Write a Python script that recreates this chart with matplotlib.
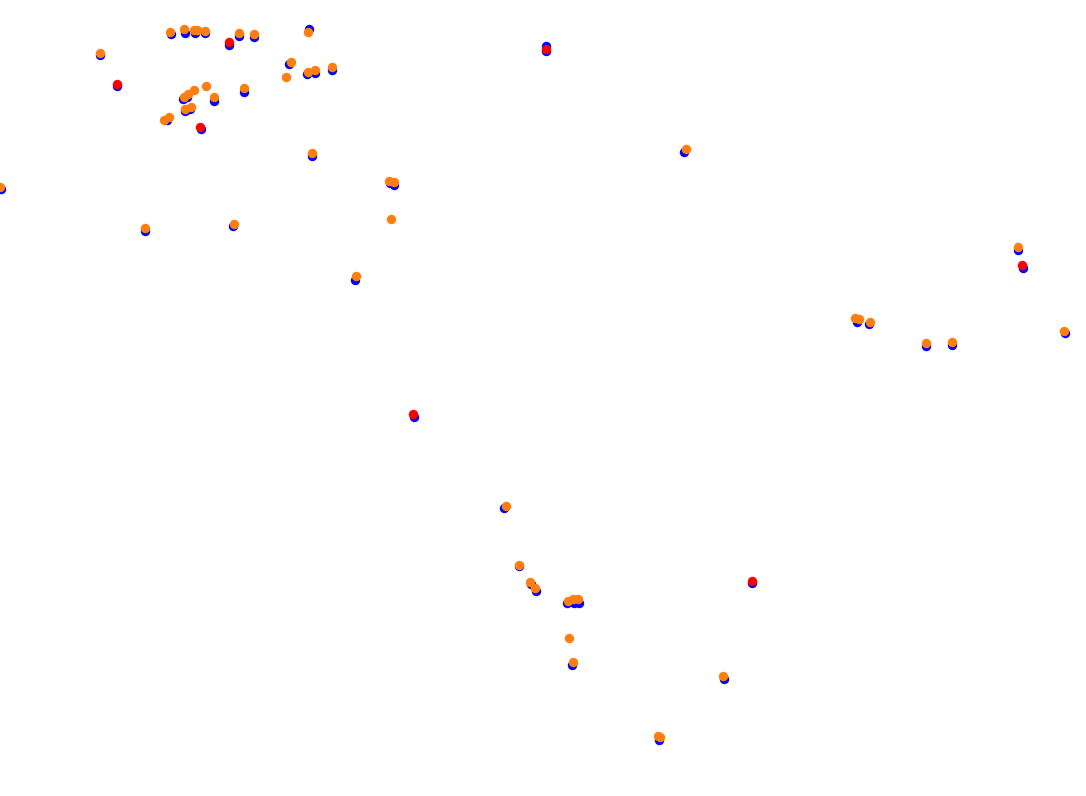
import matplotlib
matplotlib.use("Agg")
import matplotlib.pyplot as plt

# blue points
blue_x = [100, 117, 170.7, 185, 194.5, 205, 229, 239, 253.7, 308.7, 289.3, 306.7, 315, 332,
          183.3, 187.3, 213.7, 243.7, 184.7, 190.3, 167.3, 201,
          0.7, 311.7, 390, 394.3, 145, 232.7, 355,
          545.7, 545.7, 684.3, 414,
          504.3, 518.7, 531, 536, 567.3, 574.3, 579.3, 571.7, 752, 724, 659,
          1018, 1022.7, 856.7, 868.7, 926, 952, 1065]
blue_y = [54.5, 86, 34, 32.7, 32.5, 32.7, 44.7, 36, 37.3, 29.3, 64, 74, 72.7, 70,
          99.3, 97, 100.7, 91.7, 111, 109.3, 120.3, 129,
          189, 156, 183.3, 184.7, 231.3, 226.3, 280,
          46, 50.5, 152, 416.7,
          508, 566, 584.3, 591, 603.3, 603.3, 602.7, 665, 583.3, 679.3, 740,
          250, 267.7, 321.7, 324.3, 345.7, 345, 333]

# orange points
orange_x = [100, 170, 184, 194.3, 197.3, 205, 239, 253.7, 307.7, 290.7, 286, 307.7, 315, 332,
            183.7, 188.3, 193.7, 205.7, 213.7, 243.7, 185.3, 191, 164.3, 168.7,
            0, 311.7, 388.7, 393.7, 390.7, 145, 234, 356,
            685.7,
            505.7, 519.3, 530, 535.3, 568.3, 573.3, 578.3, 568.7, 573, 723, 657.7, 660.3,
            1018, 855.3, 859, 870, 926, 952, 1064]
orange_y = [52.7, 32, 29.3, 30, 30, 31, 32.7, 33.7, 32, 61.7, 76.7, 71.7, 70, 66.7,
            97.3, 94, 90.3, 85.7, 97, 87.7, 109, 107, 120, 117.3,
            186.7, 153, 180.7, 182, 218.7, 228.3, 223.7, 276.3,
            149.3,
            505.7, 564.7, 581.7, 587.7, 600.7, 599.3, 599.3, 637.7, 661.7, 675.7, 735.7, 737,
            247, 318.3, 319.3, 321.7, 342.7, 341.7, 330.7]

# red points
red_x = [116.7, 229.3, 199.7, 545.7, 412.7, 752, 1022]
red_y = [84, 42.3, 126.7, 49, 414.3, 581.3, 265]

fig = plt.figure(figsize=(10.86, 7.96), dpi=100)
ax = fig.add_axes([0, 0, 1, 1])

ax.scatter(blue_x, blue_y, s=46, color="#0000ff", linewidths=0, zorder=1)
ax.scatter(orange_x, orange_y, s=46, color="#ff7f0e", linewidths=0, zorder=2)
ax.scatter(red_x, red_y, s=46, color="#ff0000", linewidths=0, zorder=3)

ax.set_xlim(0, 1086)
ax.set_ylim(796, 0)
ax.axis("off")

fig.savefig("out.png", dpi=100, facecolor="white")
